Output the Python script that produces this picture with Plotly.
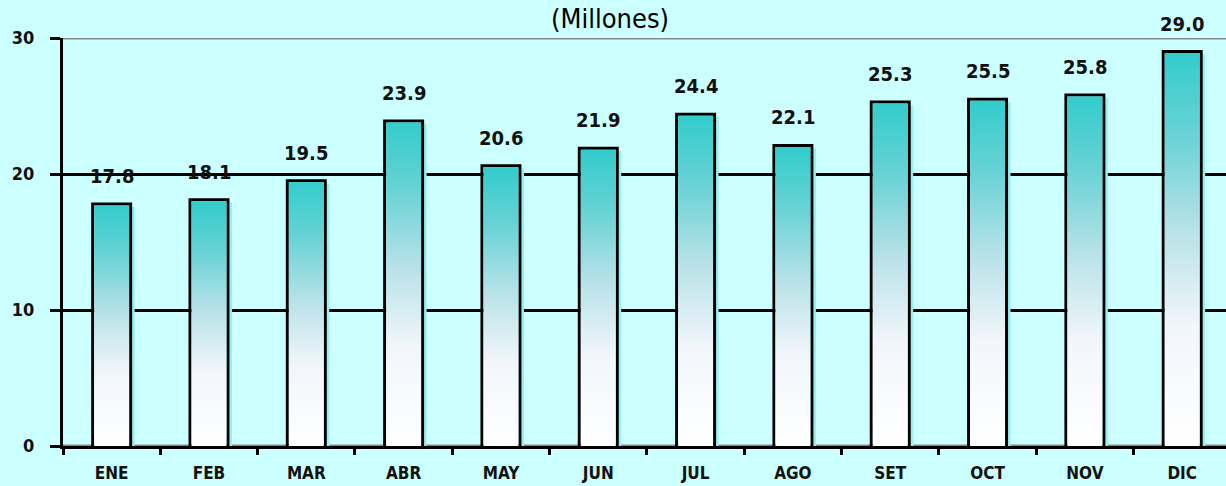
import plotly.graph_objects as go

months = ["ENE", "FEB", "MAR", "ABR", "MAY", "JUN", "JUL", "AGO", "SET", "OCT", "NOV", "DIC"]
values = [17.8, 18.1, 19.5, 23.9, 20.6, 21.9, 24.4, 22.1, 25.3, 25.5, 25.8, 29.0]
value_labels = ["17.8", "18.1", "19.5", "23.9", "20.6", "21.9", "24.4", "22.1", "25.3", "25.5", "25.8", "29.0"]
y_ticks = [0, 10, 20, 30]

W, H = 1226, 486
ML, MR, MT, MB = 63, 0, 38, 40
XR = [-0.5, 11.45]
YR = [0, 30]
px_x = (W - ML - MR) / (XR[1] - XR[0])
px_y = (H - MT - MB) / (YR[1] - YR[0])

BG = "#CCFFFF"
FONT = "DejaVu Sans Condensed, Liberation Sans Narrow, Arial Narrow, sans-serif"
bw = 0.39
idx = list(range(len(months)))

fig = go.Figure()

# shadow
fig.add_trace(go.Bar(
    x=idx, y=[v - 3 / px_y for v in values], width=bw, offset=-bw / 2 + 4 / px_x,
    marker=dict(color="#99EEEE", line=dict(width=0)), hoverinfo="skip", showlegend=False))

# outline bars
fig.add_trace(go.Bar(
    x=idx, y=values, width=bw,
    marker=dict(color="rgba(0,0,0,0)", line=dict(color="black", width=3)),
    showlegend=False))

# gradient fills
dx = 1.5 / px_x
dy = 1.5 / px_y
for i, v in zip(idx, values):
    x0, x1 = i - bw / 2 + dx, i + bw / 2 - dx
    fig.add_trace(go.Scatter(
        x=[x0, x1, x1, x0, x0], y=[0, 0, v - dy, v - dy, 0],
        mode="lines", fill="toself", line=dict(width=0),
        fillgradient=dict(type="vertical",
                          colorscale=[[0, "#FFFFFF"], [0.3, "#F2F6FB"], [0.55, "#B8E2E8"],
                                      [0.8, "#66D2D4"], [1, "#33CCCC"]]),
        hoverinfo="skip", showlegend=False))

for i, v, t in zip(idx, values, value_labels):
    fig.add_annotation(x=i, y=v, text=t, showarrow=False, yanchor="bottom", yshift=14,
                       font=dict(family=FONT, size=20, color="#111111", weight="bold"))

fig.add_annotation(x=0.47, xref="paper", y=1.0, yref="paper", yshift=MT - 1,
                   text="(Millones)", showarrow=False, yanchor="top",
                   font=dict(family=FONT, size=27, color="#000000"))

for yv in (0, 30):
    fig.add_shape(type="line", xref="paper", x0=0, x1=1, yref="y", y0=yv, y1=yv,
                  line=dict(color="#888888", width=3), layer="below")

fig.update_layout(
    width=W, height=H,
    margin=dict(l=ML, r=MR, t=MT, b=MB, autoexpand=False),
    paper_bgcolor=BG, plot_bgcolor=BG,
    barmode="overlay",
    xaxis=dict(range=XR, tickvals=idx, ticktext=months, ticks="", showgrid=False,
               zeroline=False, showline=True, linecolor="black", linewidth=3,
               automargin=False, ticklabelstandoff=10,
               tickfont=dict(family=FONT, size=17, color="#111111", weight="bold"),
               minor=dict(tickvals=[i - 0.5 for i in idx], ticks="outside", ticklen=6,
                          tickwidth=3, tickcolor="black", showgrid=False)),
    yaxis=dict(range=YR, tickvals=y_ticks, ticks="outside", ticklen=10, tickwidth=3,
               tickcolor="black", showgrid=True, gridcolor="black", gridwidth=3,
               zeroline=False, showline=True, linecolor="black", linewidth=3,
               automargin=False, ticklabelstandoff=12,
               tickfont=dict(family=FONT, size=18, color="#111111", weight="bold")),
)

fig.write_html("out.html", config={"displayModeBar": False},
               post_script="document.body.style.margin='0';document.body.style.overflow='hidden';")
